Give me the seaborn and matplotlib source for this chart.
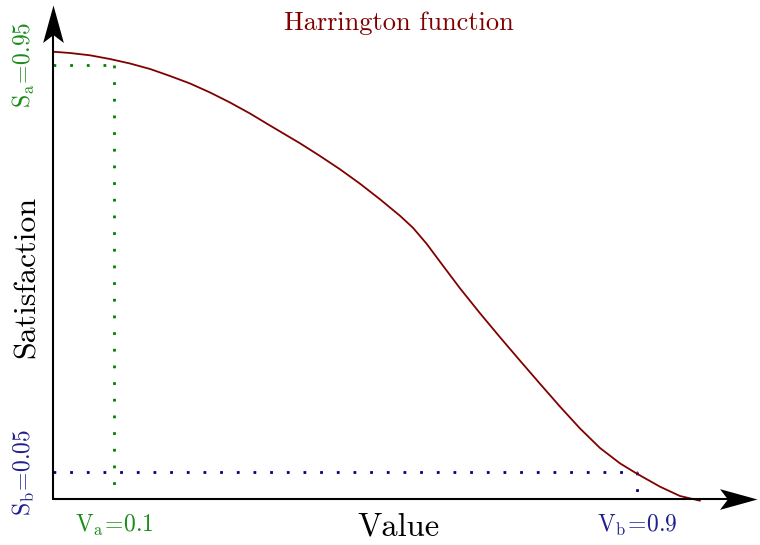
import matplotlib
matplotlib.use("Agg")
import matplotlib.pyplot as plt
import seaborn as sns
from matplotlib.path import Path

# values
value = [0.0072, 0.0327, 0.0633, 0.0939, 0.1247, 0.1553, 0.1859, 0.2165, 0.2471,
         0.2775, 0.3081, 0.3387, 0.3846, 0.4152, 0.4458, 0.4764, 0.5070, 0.5376,
         0.5574, 0.5784, 0.5987, 0.6293, 0.6599, 0.6905, 0.7211, 0.7517, 0.7823,
         0.8129, 0.8435, 0.8741, 0.8996, 0.9352, 0.9658, 0.9964]
satisfaction = [0.9794, 0.9766, 0.9715, 0.9633, 0.9533, 0.9412, 0.9257, 0.9091, 0.8892,
                0.8671, 0.8428, 0.8162, 0.7769, 0.7488, 0.7194, 0.6875, 0.6530, 0.6165,
                0.5900, 0.5545, 0.5150, 0.4562, 0.4010, 0.3480, 0.2962, 0.2450, 0.1945,
                0.1462, 0.1030, 0.0690, 0.0465, 0.0175, -0.0031, -0.0135]

# reference points
va, sa = 0.1, 0.95
vb, sb = 0.9, 0.05
origin = (0.007, -0.01)
x_end, y_end = 1.084, 1.083

red = "#800000"
green = "#008000"
blue = "#000080"
green_txt = "#1a8c1a"
blue_txt = "#1f1f8f"

sns.set_style("white")
plt.rcParams["font.family"] = ["cmr10", "DejaVu Serif"]
plt.rcParams["mathtext.fontset"] = "cm"
plt.rcParams["axes.unicode_minus"] = False
plt.rcParams["text.color"] = "black"

fig = plt.figure(figsize=(7.6, 5.45), dpi=100)
ax = fig.add_axes([0, 0, 1, 1])
ax.set_xlim(-0.0743, 1.0882)
ax.set_ylim(-0.1115, 1.0938)
ax.set_axis_off()

# dotted guide lines
dot = dict(lw=2, linestyle=(0, (1, 5)), dash_capstyle="butt")
ax.plot([origin[0], va], [sa, sa], color=green, **dot)
ax.plot([va, va], [sa, origin[1]], color=green, **dot)
ax.plot([origin[0], vb], [sb, sb], color=blue, **dot)
ax.plot([vb, vb], [sb, origin[1]], color=blue, **dot)

# the curve
sns.lineplot(x=value, y=satisfaction, color=red, lw=1.3, ax=ax, sort=False,
             solid_joinstyle="round")

# axes with stealth arrow heads
ax.plot([origin[0], x_end - 0.03], [origin[1], origin[1]], color="black", lw=1.5)
ax.plot([origin[0], origin[0]], [origin[1], y_end - 0.04], color="black", lw=1.5)
stealth = Path([(0, 0), (-38, 10.5), (-30, 0), (-38, -10.5), (0, 0)],
               [Path.MOVETO, Path.LINETO, Path.LINETO, Path.LINETO, Path.CLOSEPOLY])
ax.plot(x_end, origin[1], marker=stealth, markersize=54, color="black", mew=0)
stealth_up = Path([(0, 0), (10.5, -38), (0, -30), (-10.5, -38), (0, 0)],
                  [Path.MOVETO, Path.LINETO, Path.LINETO, Path.LINETO, Path.CLOSEPOLY])
ax.plot(origin[0], y_end, marker=stealth_up, markersize=54, color="black", mew=0)

# texts
ax.text(0.536, 1.043, "Harrington function", color=red, fontsize=19,
        ha="center", va="center")
ax.text(0.536, -0.072, "Value", fontsize=23.5, ha="center", va="center")
ax.text(-0.033, 0.481, "Satisfaction", fontsize=23, rotation=90,
        ha="center", va="center")
ax.text(va, -0.068, r"$\mathrm{V_a\!=\!0.1}$", color=green_txt, fontsize=17,
        ha="center", va="center")
ax.text(vb, -0.068, r"$\mathrm{V_b\!=\!0.9}$", color=blue_txt, fontsize=17,
        ha="center", va="center")
ax.text(-0.038, sa, r"$\mathrm{S_a\!=\!0.95}$", color=green_txt, fontsize=17,
        rotation=90, ha="center", va="center")
ax.text(-0.038, sb, r"$\mathrm{S_b\!=\!0.05}$", color=blue_txt, fontsize=17,
        rotation=90, ha="center", va="center")

fig.savefig("out.png", dpi=100)
